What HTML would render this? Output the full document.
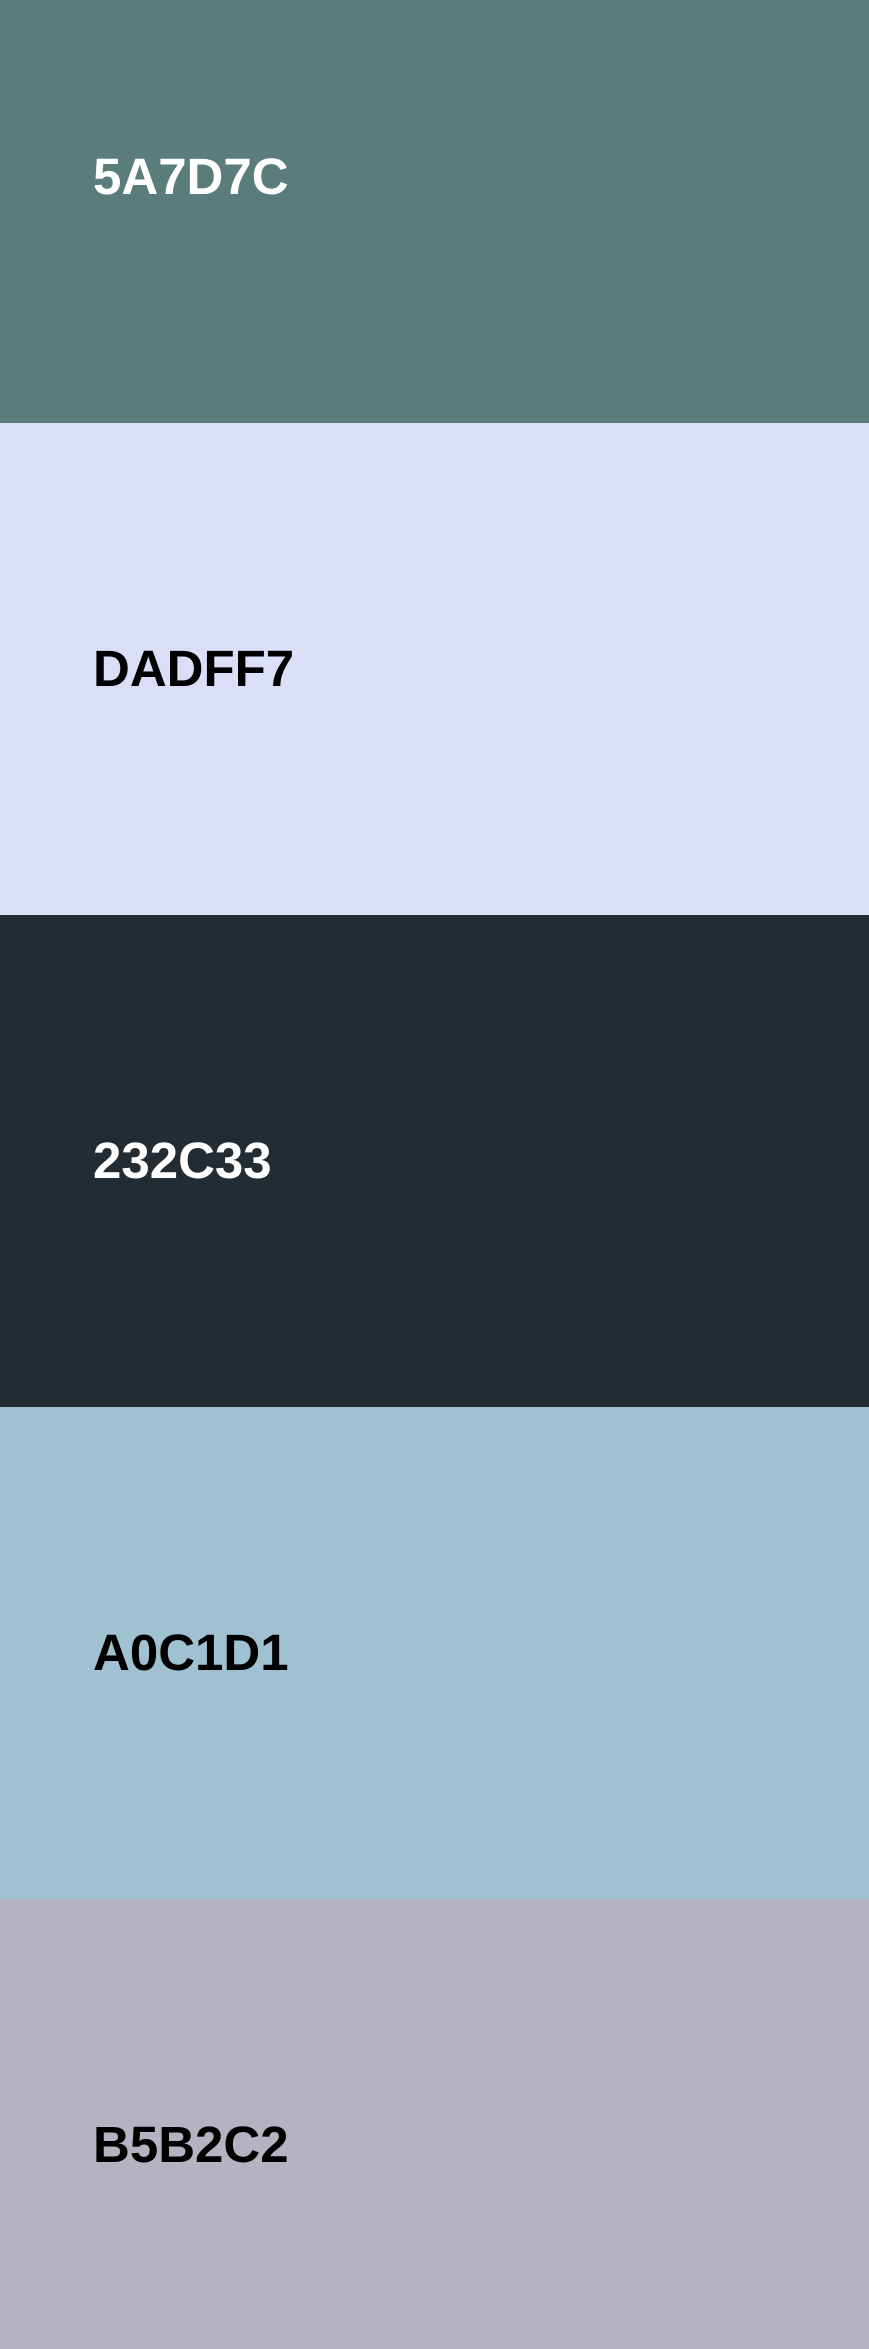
<!DOCTYPE html>
<html><head><meta charset="utf-8"><style>
html,body{margin:0;padding:0;width:869px;height:2349px;overflow:hidden;position:relative}
.band{position:absolute;left:0;width:869px;height:492px}
.lbl{position:absolute;left:93px;top:0;height:492px;line-height:492px;font-family:"Liberation Sans",sans-serif;font-weight:bold;font-size:51px;margin:0}
</style></head><body>
<div class="band" style="top:-69px;background:#5A7D7C"><p class="lbl" style="color:#fff">5A7D7C</p></div>
<div class="band" style="top:423px;background:#DADFF7"><p class="lbl" style="color:#000">DADFF7</p></div>
<div class="band" style="top:915px;background:#232C33"><p class="lbl" style="color:#fff">232C33</p></div>
<div class="band" style="top:1407px;background:#A0C1D1"><p class="lbl" style="color:#000">A0C1D1</p></div>
<div class="band" style="top:1899px;height:450px;background:#B5B2C2"><p class="lbl" style="color:#000">B5B2C2</p></div>
</body></html>
